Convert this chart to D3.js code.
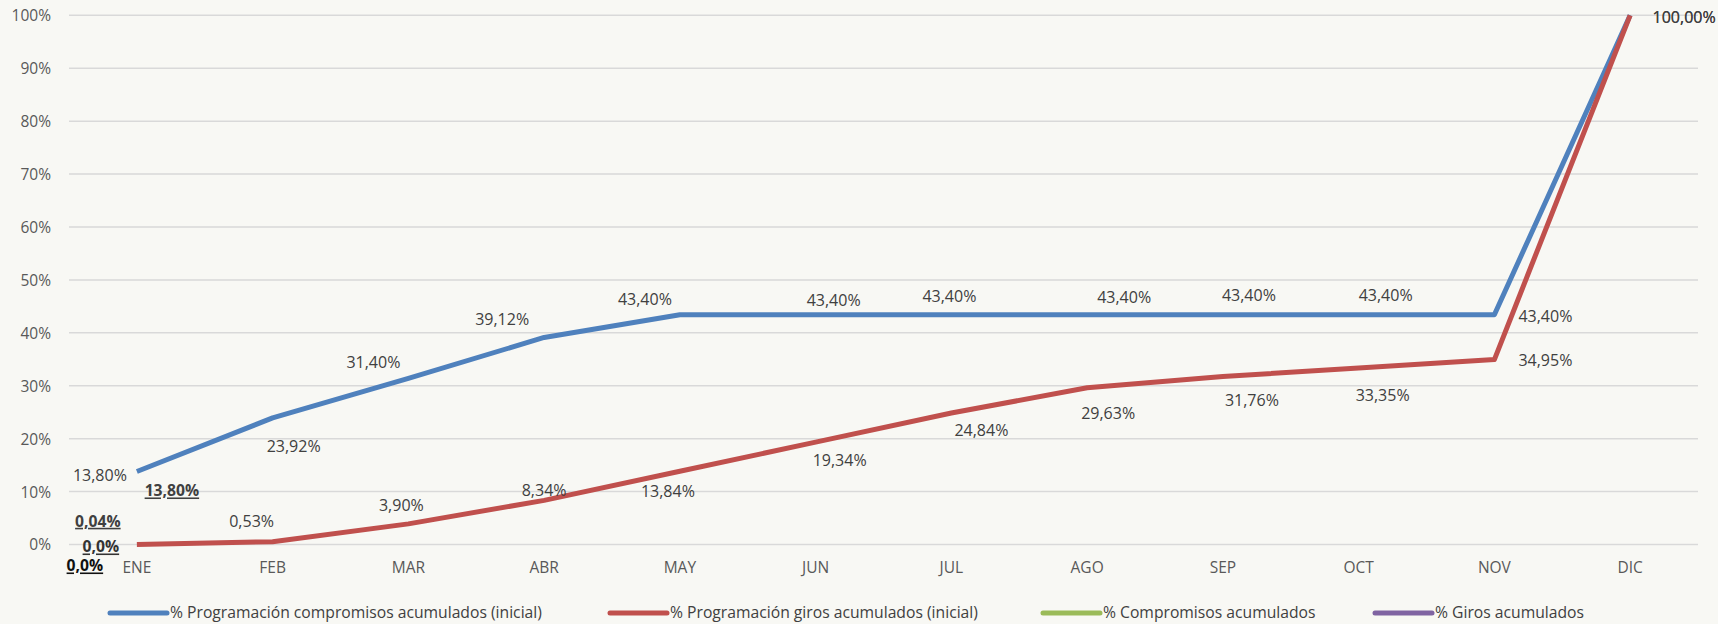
<!DOCTYPE html>
<html>
<head>
<meta charset="utf-8">
<script src="https://cdn.jsdelivr.net/npm/d3@7"></script>
<style>
  html, body { margin: 0; padding: 0; background: #f8f8f4; }
  svg { display: block; }
  text { font-family: "Open Sans", "Noto Sans", sans-serif; }
</style>
</head>
<body>
<svg id="chart" width="1718" height="624"></svg>
<script>
// ---------- DATA ----------
const months = ["ENE","FEB","MAR","ABR","MAY","JUN","JUL","AGO","SEP","OCT","NOV","DIC"];
const progCompromisos = [13.80, 23.92, 31.40, 39.12, 43.40, 43.40, 43.40, 43.40, 43.40, 43.40, 43.40, 100.00];
const progGiros       = [0.00, 0.53, 3.90, 8.34, 13.84, 19.34, 24.84, 29.63, 31.76, 33.35, 34.95, 100.00];
const compromisosAcum = [13.80];
const girosAcum       = [0.04];
const extraLabels     = ["0,0%", "0,0%"];
const yTicks = [0, 10, 20, 30, 40, 50, 60, 70, 80, 90, 100];
const seriesNames = [
  "% Programación compromisos acumulados (inicial)",
  "% Programación giros acumulados (inicial)",
  "% Compromisos acumulados",
  "% Giros acumulados"
];

// ---------- LAYOUT ----------
const W = 1718, H = 624;
const margin = { left: 69, right: 20, top: 15.3, bottom: 79.5 };
const colors = ["#4f81bd", "#c0504d", "#9bbb59", "#8064a2"];
// label offsets (label centre relative to the point)
const blueOff = [[-37,3.5],[21,28],[-35,-16],[-42,-18.5],[-35,-15],[18,-14],[-2,-18],[37,-17],[26,-19],[27,-19],[51,2],[54,2]];
const redOff  = [null,[-21,-20],[-7,-18],[0,-10],[-12,20],[24,18],[30,17],[21,26],[29,24],[24,27],[51,0.5],[54,2]];

const fmt = v => d3.format(".2f")(v).replace(".", ",") + "%";

const svg = d3.select("#chart");
svg.append("rect").attr("width", W).attr("height", H).attr("fill", "#f8f8f4");

const x = d3.scaleBand().domain(months).range([margin.left, W - margin.right]);
const cx = m => x(m) + x.bandwidth() / 2;
const y = d3.scaleLinear().domain([0, 100]).range([H - margin.bottom, margin.top]);

// gridlines
svg.append("g").selectAll("line").data(yTicks).join("line")
  .attr("x1", margin.left).attr("x2", W - margin.right)
  .attr("y1", d => y(d)).attr("y2", d => y(d))
  .attr("stroke", "#d9d9d9").attr("stroke-width", 1.5);

// y axis
const yAxis = d3.axisLeft(y).tickValues(yTicks).tickFormat(d => d + "%").tickSize(0).tickPadding(0);
const yg = svg.append("g").attr("transform", `translate(${51},0)`).call(yAxis);
yg.select(".domain").remove();
yg.selectAll("text").attr("font-size", 15.5).attr("fill", "#595959")
  .attr("font-family", '"Open Sans", sans-serif').attr("dy", "0.35em").attr("x", 0);

// x axis
const xAxis = d3.axisBottom(x).tickSize(0).tickPadding(0);
const xg = svg.append("g").attr("transform", `translate(0,${H - margin.bottom})`).call(xAxis);
xg.select(".domain").remove();
xg.selectAll("text").attr("font-size", 15.5).attr("fill", "#595959")
  .attr("font-family", '"Open Sans", sans-serif').attr("y", 23.5).attr("dy", "0.35em");

// lines
const line = d3.line().x((d, i) => cx(months[i])).y(d => y(d));
[progCompromisos, progGiros].forEach((vals, k) => {
  svg.append("path").datum(vals)
    .attr("fill", "none").attr("stroke", colors[k]).attr("stroke-width", 5)
    .attr("stroke-linejoin", "round").attr("stroke-linecap", "butt")
    .attr("d", line);
});

// data labels
function labels(vals, offs) {
  svg.append("g").selectAll("text").data(vals.map((v, i) => ({ v, i, o: offs[i] })).filter(d => d.o))
    .join("text")
    .attr("x", d => cx(months[d.i]) + d.o[0])
    .attr("y", d => y(d.v) + d.o[1])
    .attr("dy", "0.35em")
    .attr("text-anchor", "middle")
    .attr("font-size", 16).attr("fill", "#404040")
    .text(d => fmt(d.v));
}
labels(progCompromisos, blueOff);
labels(progGiros, redOff);

// bold underlined labels (compromisos / giros acumulados)
const bold = [
  { text: fmt(compromisosAcum[0]), px: cx(months[0]) + 35, py: y(compromisosAcum[0]) + 19.5, c: "#404040" },
  { text: fmt(girosAcum[0]), px: cx(months[0]) - 39, py: y(girosAcum[0]) - 23, c: "#404040" },
  { text: extraLabels[0], px: cx(months[0]) - 36, py: y(progGiros[0]) + 2.5, c: "#333333" },
  { text: extraLabels[1], px: cx(months[0]) - 52, py: y(progGiros[0]) + 21.5, c: "#111111" }
];
svg.append("g").selectAll("text").data(bold).join("text")
  .attr("x", d => d.px).attr("y", d => d.py).attr("dy", "0.35em")
  .attr("text-anchor", "middle").attr("font-size", 15.7).attr("font-weight", "bold")
  .attr("fill", d => d.c).style("text-decoration", "underline")
  .text(d => d.text);

// legend
const legX = [110, 610, 1043, 1375];
const legY = 613;
const lg = svg.append("g");
seriesNames.forEach((name, i) => {
  lg.append("line").attr("x1", legX[i]).attr("x2", legX[i] + 57)
    .attr("y1", legY).attr("y2", legY)
    .attr("stroke", colors[i]).attr("stroke-width", 5).attr("stroke-linecap", "round");
  lg.append("text").attr("x", legX[i] + 60).attr("y", legY).attr("dy", "0.35em")
    .attr("font-size", 15.7).attr("fill", "#404040").text(name);
});
</script>
</body>
</html>
